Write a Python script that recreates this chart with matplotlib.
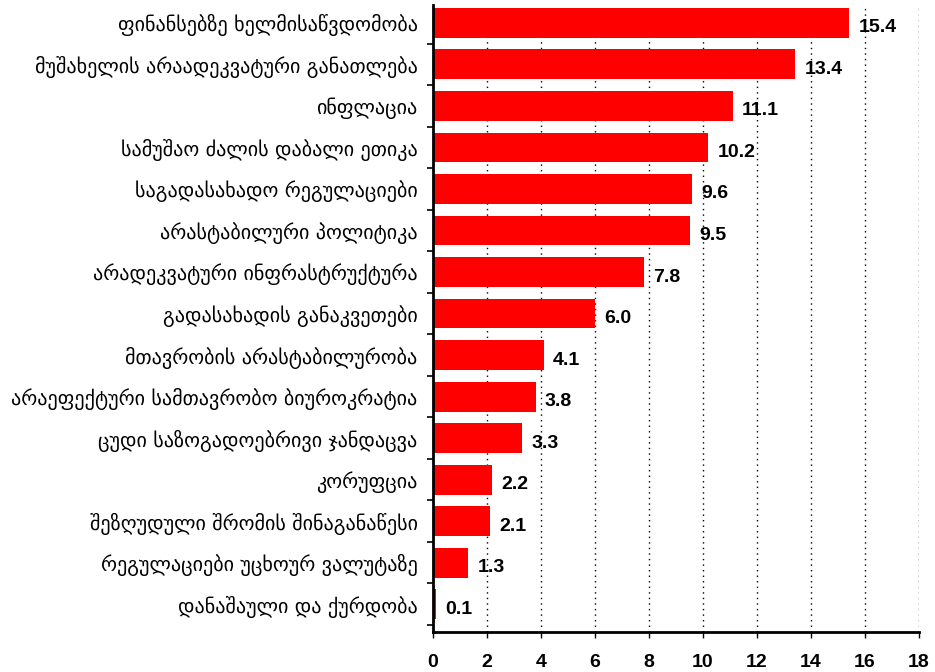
import numpy as np
import matplotlib.pyplot as plt

# data (top to bottom as in the picture)
labels = [
    "ფინანსებზე ხელმისაწვდომობა",
    "მუშახელის არაადეკვატური განათლება",
    "ინფლაცია",
    "სამუშაო ძალის დაბალი ეთიკა",
    "საგადასახადო რეგულაციები",
    "არასტაბილური პოლიტიკა",
    "არადეკვატური ინფრასტრუქტურა",
    "გადასახადის განაკვეთები",
    "მთავრობის არასტაბილურობა",
    "არაეფექტური სამთავრობო ბიუროკრატია",
    "ცუდი საზოგადოებრივი ჯანდაცვა",
    "კორუფცია",
    "შეზღუდული შრომის შინაგანაწესი",
    "რეგულაციები უცხოურ ვალუტაზე",
    "დანაშაული და ქურდობა",
]
values = [15.4, 13.4, 11.1, 10.2, 9.6, 9.5, 7.8, 6.0, 4.1, 3.8, 3.3, 2.2, 2.1, 1.3, 0.1]
xticks = [0, 2, 4, 6, 8, 10, 12, 14, 16, 18]

plt.rcParams['font.family'] = ['DejaVu Sans']

fig = plt.figure(figsize=(9.35, 6.72), dpi=100)
ax = fig.add_axes([0.463, 0.0595, 0.52, 0.933])

y = np.arange(len(values))
ax.barh(y, values, height=0.72, color='#ff0000', zorder=2)

for yi, v in zip(y, values):
    ax.text(v + 0.35, yi + 0.12, f"{v:.1f}", va='center', ha='left',
            fontsize=14, fontweight='bold', family='Liberation Sans', zorder=3)

ax.set_yticks(y)
ax.set_yticklabels(labels, fontsize=14.5)
ax.set_yticks(np.arange(-0.5, len(values), 1.0), minor=True)
ax.tick_params(axis='y', which='major', length=0, pad=11)
ax.tick_params(axis='y', which='minor', length=4, width=1.2, color='black')

ax.set_xticks(xticks)
ax.set_xticklabels([str(t) for t in xticks], fontsize=14, fontweight='bold',
                   family='Liberation Sans')
ax.tick_params(axis='x', length=4, width=1, pad=12)

ax.set_xlim(0, 18)
ax.set_ylim(len(values) - 0.33, -0.43)

ax.xaxis.grid(True, linestyle=(0, (1, 3)), color='black', linewidth=1.0)
ax.set_axisbelow(True)

for s in ['top', 'right']:
    ax.spines[s].set_visible(False)
ax.spines['left'].set_linewidth(2)
ax.spines['bottom'].set_linewidth(2)

plt.savefig('out.png', dpi=100)
